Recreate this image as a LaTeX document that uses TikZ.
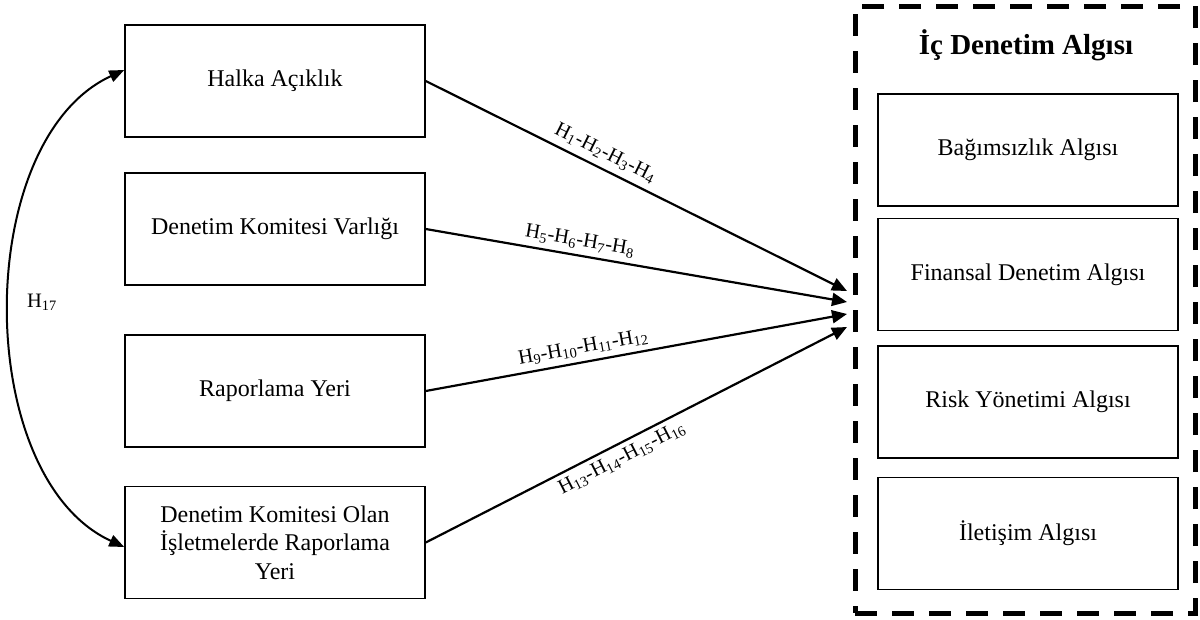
\documentclass[tikz,border=0pt]{standalone}
\usepackage{fontspec}
\setmainfont{Liberation Serif}
\usetikzlibrary{arrows.meta}
\begin{document}
\begin{tikzpicture}[x=1pt,y=-1pt,
  lbox/.style={draw=black, line width=1.5pt, minimum width=300pt, minimum height=112pt, inner sep=0pt, align=center, font=\fontsize{24}{28.5}\selectfont},
  grpbox/.style={draw=black, line width=5pt, dash pattern=on 22pt off 15pt, minimum width=340pt, minimum height=607pt, inner sep=0pt},
  conn/.style={line width=2.2pt, -{Triangle[length=15pt,width=13pt]}},
  arcconn/.style={line width=2pt, {Triangle[length=15pt,width=12pt]}-{Triangle[length=15pt,width=12pt]}},
  hlab/.style={font=\fontsize{20.5}{24}\selectfont, inner sep=1pt}
]
\useasboundingbox (0,0) rectangle (1200,619);
% left boxes
\node[lbox] (b1) at (275,81) {Halka Açıklık};
\node[lbox] (b2) at (275,229) {Denetim Komitesi Varlığı};
\node[lbox] (b3) at (275,391) {Raporlama Yeri};
\node[lbox] (b4) at (275,542.5) {Denetim Komitesi Olan\\İşletmelerde Raporlama\\Yeri};
% group
\node[grpbox] (grp) at (1025,309.5) {};
\node[font=\fontsize{29}{33}\selectfont\bfseries] (title) at (1026,45) {İç Denetim Algısı};
\node[lbox] (r1) at (1028,150) {Bağımsızlık Algısı};
\node[lbox] (r2) at (1028,274.5) {Finansal Denetim Algısı};
\node[lbox] (r3) at (1028,402) {Risk Yönetimi Algısı};
\node[lbox] (r4) at (1028,533.5) {İletişim Algısı};
% arrow tips
\coordinate (t1) at (847,291);
\coordinate (t2) at (847,302);
\coordinate (t3) at (847,314);
\coordinate (t4) at (847,327);
\draw[conn] (b1.east) -- node[hlab, sloped, above=5pt, pos=0.41] {H\textsubscript{1}-H\textsubscript{2}-H\textsubscript{3}-H\textsubscript{4}} (t1);
\draw[conn] (b2.east) -- node[hlab, sloped, above=4pt, pos=0.36] {H\textsubscript{5}-H\textsubscript{6}-H\textsubscript{7}-H\textsubscript{8}} (t2);
\draw[conn] (b3.east) -- node[hlab, sloped, above=4pt, pos=0.38] {H\textsubscript{9}-H\textsubscript{10}-H\textsubscript{11}-H\textsubscript{12}} (t3);
\draw[conn] (b4.east) -- node[hlab, sloped, below=4pt, pos=0.45] {H\textsubscript{13}-H\textsubscript{14}-H\textsubscript{15}-H\textsubscript{16}} (t4);
% left arc
\draw[arcconn] ([yshift=11pt]b1.west) .. controls (-28,140) and (-28,477) .. ([yshift=-4.5pt]b4.west);
\node[hlab] (h17) at (42,302) {H\textsubscript{17}};
\end{tikzpicture}
\end{document}
